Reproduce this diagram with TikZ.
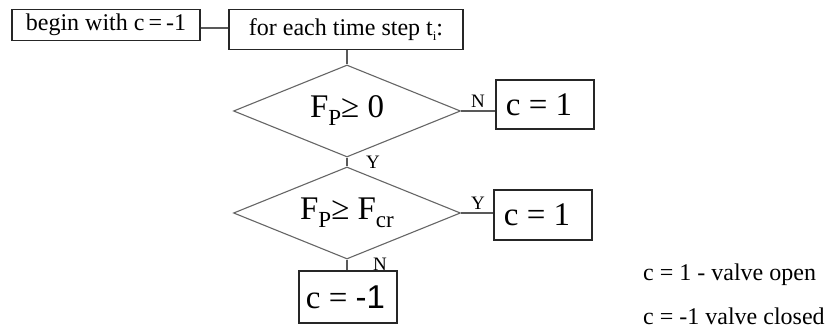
\documentclass[tikz,border=0pt]{standalone}
\usepackage{fontspec}
\setmainfont{Liberation Serif}
\newfontfamily\arialf{Liberation Sans}
\usetikzlibrary{shapes.geometric}
\begin{document}
\begin{tikzpicture}[x=1pt,y=-1pt,
  boxnode/.style={draw=black!85,line width=1.1pt,rectangle,inner sep=0pt,font=\fontsize{24}{28}\selectfont},
  bigbox/.style={draw=black!85,line width=1.1pt,rectangle,inner sep=0pt,font=\fontsize{33}{36}\selectfont},
  decision/.style={draw=black!60,line width=1.1pt,diamond,shape aspect=2.47,inner sep=0pt,minimum width=227pt,minimum height=92pt,font=\fontsize{33}{36}\selectfont},
  conn/.style={draw=black!65,line width=1.1pt},
  lbl/.style={font=\fontsize{19}{20}\selectfont,inner sep=0pt},
  legend/.style={font=\fontsize{24}{28}\selectfont,inner sep=0pt,anchor=west}]
\useasboundingbox[fill=white] (0,0) rectangle (830,328);
\node[boxnode,minimum width=188pt,minimum height=31pt] (b1) at (106,25) {begin with c\,=\,-1};
\node[boxnode,minimum width=234pt,minimum height=40pt] (b2) at (346,29.5) {for each time step t\raisebox{-5pt}{\fontsize{13}{13}\selectfont i}:};
\node[decision] (d1) at (347,111) {F\raisebox{-8pt}{\fontsize{23}{23}\selectfont P}≥ 0};
\node[decision] (d2) at (347,213) {F\raisebox{-8pt}{\fontsize{23}{23}\selectfont P}≥ F\raisebox{-8pt}{\fontsize{23}{23}\selectfont cr}};
\node[bigbox,minimum width=98pt,minimum height=49pt] (c1) at (545,104.5) {c = 1\kern12pt};
\node[bigbox,minimum width=98pt,minimum height=50pt] (c2) at (543,215) {c = 1\kern12pt};
\node[bigbox,minimum width=98pt,minimum height=52pt] (c3) at (348,297) {c = {\arialf -1}\kern5pt};
\draw[conn] (b1.east |- 0,28) -- (b2.west |- 0,28);
\draw[conn] (d1.north |- b2.south) -- (d1.north);
\draw[conn] (d1.south) -- (d2.north);
\draw[conn] (d1.east) -- (d1.east -| c1.west);
\draw[conn] (d2.east) -- (d2.east -| c2.west);
\draw[conn] (d2.south) -- (d2.south |- c3.north);
\node[lbl] (n1) at (478,101) {N};
\node[lbl] (y1) at (373,162) {Y};
\node[lbl] (y2) at (478,203) {Y};
\node[lbl] (n2) at (380,264) {N};
\node[legend] (l1) at (643,275) {c = 1 - valve open};
\node[legend] (l2) at (643,316) {c = -1 valve closed};
\end{tikzpicture}
\end{document}
